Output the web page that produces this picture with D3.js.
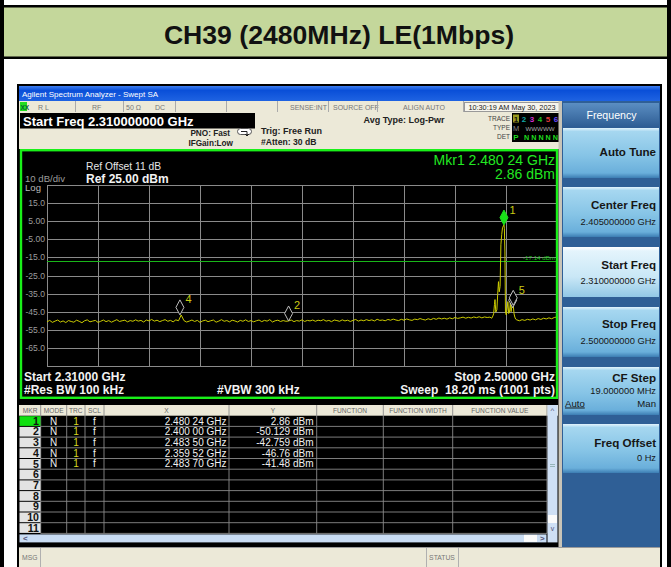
<!DOCTYPE html>
<html>
<head>
<meta charset="utf-8">
<script src="https://cdn.jsdelivr.net/npm/d3@7"></script>
<style>
  body { margin: 0; background: #fff; }
  svg { display: block; font-family: "Liberation Sans", Arial, sans-serif; }
</style>
</head>
<body>
<svg id="chart" width="671" height="567"></svg>
<script>
var titleText = "CH39 (2480MHz) LE(1Mbps)";

var startGHz = 2.31, stopGHz = 2.50;
var refDbm = 25, bottomDbm = -75;
var displayLineDbm = -17.14;

var yTickValues = [15, 5, -5, -15, -25, -35, -45, -55, -65];
var yTickLabels = ["15.0", "5.00", "-5.00", "-15.0", "-25.0", "-35.0", "-45.0", "-55.0", "-65.0"];
var xGridGHz = [2.310, 2.329, 2.348, 2.367, 2.386, 2.405, 2.424, 2.443, 2.462, 2.481, 2.500];

// trace: floor 2.310..2.475 GHz every 1 MHz
var floorLeftDbm = [
  -50.6, -49.8, -50.9, -50.2, -49.6, -50.7, -50.1, -51.0, -49.9, -50.4,
  -50.8, -49.7, -50.3, -51.1, -50.0, -49.5, -50.6, -50.2, -49.8, -50.9,
  -50.3, -49.6, -50.5, -49.9, -50.8, -50.1, -49.4, -50.4, -50.0, -49.7,
  -50.6, -49.9, -50.3, -49.5, -50.2, -49.8, -50.7, -49.6, -50.1, -49.3,
  -50.2, -49.7, -50.5, -49.9, -49.4, -50.3, -49.8, -50.6, -49.5, -50.0,
  -46.8, -49.9, -50.7, -50.2, -49.6, -50.4, -49.8, -50.9, -50.1, -49.7,
  -50.5, -50.0, -49.6, -50.8, -50.2, -49.4, -50.3, -49.9, -50.6, -49.7,
  -50.1, -50.7, -49.8, -50.3, -49.5, -50.4, -49.9, -50.6, -50.0, -49.6,
  -50.5, -49.8, -50.2, -49.4, -50.7, -50.0, -49.7, -50.4, -49.9, -50.3,
  -50.13, -49.6, -50.5, -49.9, -50.2, -49.5, -50.4, -49.8, -50.1, -49.6,
  -50.3, -49.7, -50.0, -49.4, -50.2, -49.8, -50.5, -49.6, -49.9, -50.3,
  -49.5, -50.1, -49.7, -50.4, -49.8, -49.3, -50.2, -49.6, -50.0, -49.4,
  -49.9, -49.5, -50.1, -49.2, -49.8, -49.6, -50.0, -49.3, -49.7, -49.1,
  -49.6, -49.9, -49.2, -49.7, -49.0, -49.5, -49.8, -49.1, -49.4, -48.8,
  -49.3, -49.6, -48.9, -49.4, -48.7, -49.2, -48.5, -49.0, -48.6, -49.1,
  -48.4, -48.9, -48.2, -48.7, -48.4, -48.0, -48.6, -48.1, -48.5, -47.9,
  -48.3, -47.8, -48.4, -47.9, -48.2, -48.0
];
var floorLeftStartGHz = 2.310;
// the carrier itself
var peakFreqGHz = [2.4757, 2.4761, 2.4764, 2.4767, 2.4769, 2.4772, 2.4776, 2.4779, 2.4782, 2.4785,
  2.4788, 2.4791, 2.4794, 2.4797, 2.4800, 2.48024, 2.4804, 2.4806, 2.4808, 2.4811,
  2.4814, 2.4817, 2.4820, 2.4823, 2.4826, 2.4829, 2.4832, 2.4835, 2.4837, 2.4840,
  2.4843, 2.4846];
var peakDbm = [-48.6, -47.4, -46.2, -41.0, -38.3, -45.2, -44.0, -35.5, -28.4, -34.0,
  -31.0, -8.0, -2.4, 1.4, 2.3, 2.86, 0.8, -12.0, -45.2, -46.8,
  -43.5, -39.4, -46.0, -45.2, -40.2, -45.0, -41.9, -42.76, -41.48, -46.2,
  -48.0, -49.1];
// floor 2.485..2.500 GHz every 1 MHz
var floorRightDbm = [-49.5, -50.0, -49.4, -49.8, -49.2, -49.6, -49.0, -49.5, -48.8, -49.3,
  -48.6, -49.0, -48.4, -48.9, -48.2, -47.9];
var floorRightStartGHz = 2.485;

var markerIds = [1, 2, 3, 4, 5];
var markerFreqGHz = [2.48024, 2.40000, 2.48350, 2.35952, 2.48370];
var markerDbm = [2.86, -50.129, -42.759, -46.76, -41.48];
var markerXText = ["2.480 24 GHz", "2.400 00 GHz", "2.483 50 GHz", "2.359 52 GHz", "2.483 70 GHz"];
var markerYText = ["2.86 dBm", "-50.129 dBm", "-42.759 dBm", "-46.76 dBm", "-41.48 dBm"];

var softkeyLabels = ["Auto Tune", "Center Freq", "Start Freq", "Stop Freq", "CF Step", "Freq Offset"];
var softkeyValues = ["", "2.405000000 GHz", "2.310000000 GHz", "2.500000000 GHz", "19.000000 MHz", "0 Hz"];

var svg = d3.select("#chart");
var defs = svg.append("defs");

function grad(id, stops) {
  var g = defs.append("linearGradient").attr("id", id).attr("x1", 0).attr("y1", 0).attr("x2", 0).attr("y2", 1);
  stops.forEach(function (s) {
    g.append("stop").attr("offset", s[0]).attr("stop-color", s[1]);
  });
}
grad("titleBar", [[0, "#3f7ff0"], [0.3, "#0a4fd8"], [1, "#1f63e2"]]);
grad("key", [[0, "#e2f3fc"], [0.07, "#a6d7f0"], [0.55, "#86c4e6"], [0.9, "#6aafdb"], [1, "#3c7db3"]]);
grad("keySel", [[0, "#ffffff"], [0.08, "#e4f4fc"], [0.6, "#c9e7f6"], [1, "#92c8e6"]]);
grad("keyHead", [[0, "#5b8ec2"], [1, "#2d5c93"]]);

function label(parent, x, y, s, size, fill, anchor, weight) {
  return parent.append("text")
    .attr("x", x).attr("y", y)
    .attr("font-size", size)
    .attr("fill", fill)
    .attr("text-anchor", anchor || "start")
    .attr("font-weight", weight || "normal")
    .text(s);
}

function box(parent, x, y, w, h, fill) {
  return parent.append("rect").attr("x", x).attr("y", y).attr("width", w).attr("height", h).attr("fill", fill);
}

// ---------- page / title band ----------
box(svg, 0, 0, 671, 567, "#fff");
box(svg, 0, 6, 671, 52, "#c4d79b");
box(svg, 0, 5, 671, 2.5, "#000");
box(svg, 0, 56.5, 671, 2.5, "#000");
box(svg, 0, 0, 4, 567, "#000");
box(svg, 667, 0, 4, 567, "#000");
label(svg, 339, 44, titleText, 26.6, "#111", "middle", "bold");

// ---------- analyzer window ----------
box(svg, 17, 84, 645, 483, "#000");
box(svg, 19, 86, 641, 15, "url(#titleBar)");
label(svg, 22, 97, "Agilent Spectrum Analyzer - Swept SA", 8, "#fff");

// status strip
box(svg, 19, 101, 542, 11, "#ece9d8");
box(svg, 20, 102, 7, 9, "#22dd22");
label(svg, 20.5, 109.5, "XX", 6.5, "#063", "start", "bold");
var stripItems = [[38, "R L"], [92, "RF"], [126, "50 \u03a9"], [155, "DC"], [290, "SENSE:INT"], [333, "SOURCE OFF"], [403, "ALIGN AUTO"]];
stripItems.forEach(function (d) { label(svg, d[0], 109.5, d[1], 7, "#777"); });
[75, 123, 175, 226, 277, 328, 377, 463].forEach(function (x) {
  svg.append("line").attr("x1", x + 0.5).attr("x2", x + 0.5).attr("y1", 101).attr("y2", 112).attr("stroke", "#aaa");
});
svg.append("rect").attr("x", 464.5).attr("y", 102.5).attr("width", 95).attr("height", 9).attr("fill", "#f6f4ec").attr("stroke", "#999");
label(svg, 512, 110, "10:30:19 AM May 30, 2023", 7.3, "#222", "middle");

// settings area
box(svg, 19, 112, 542, 37, "#ece9d8");
box(svg, 20, 113, 235, 15.5, "#000");
label(svg, 23, 125.5, "Start Freq 2.310000000 GHz", 13, "#fff", "start", "bold");
label(svg, 230, 135.5, "PNO: Fast", 8.2, "#222", "end", "bold");
label(svg, 233, 145.5, "IFGain:Low", 8.2, "#222", "end", "bold");
svg.append("rect").attr("x", 237.5).attr("y", 128.5).attr("width", 14).attr("height", 6).attr("rx", 3)
  .attr("fill", "#fff").attr("stroke", "#555");
svg.append("path").attr("d", "M241,131.5 h6 v4 m-2,-1.5 l2,2 l2,-2").attr("fill", "none").attr("stroke", "#222");
label(svg, 261, 133.5, "Trig: Free Run", 9, "#222", "start", "bold");
label(svg, 261, 145, "#Atten: 30 dB", 8.6, "#222", "start", "bold");
label(svg, 404, 122.5, "Avg Type: Log-Pwr", 9, "#222", "middle", "bold");
label(svg, 510, 120.5, "TRACE", 6.5, "#444", "end");
label(svg, 510, 129.5, "TYPE", 6.5, "#444", "end");
label(svg, 510, 138.5, "DET", 6.5, "#444", "end");
box(svg, 512, 113, 48, 29, "#000");
box(svg, 513, 114.5, 6, 8, "#9a9a20");
var traceNumColors = ["#111", "#13a7a7", "#d02fd0", "#1fbf1f", "#e23a3a", "#6a4cff"];
traceNumColors.forEach(function (c, i) {
  label(svg, 516 + i * 8, 121.5, String(i + 1), 8, c, "middle", "bold");
});
label(svg, 516, 130.5, "M", 7.5, "#8a8a8a", "middle");
label(svg, 540, 130.5, "WWWWW", 6.2, "#aaa", "middle");
label(svg, 516, 139.5, "P", 8, "#1fdc1f", "middle", "bold");
label(svg, 541, 139.5, "N N N N N", 7.2, "#1fdc1f", "middle", "bold");

// ---------- trace display ----------
var x = d3.scaleLinear().domain([startGHz, stopGHz]).range([47, 557]);
var y = d3.scaleLinear().domain([bottomDbm, refDbm]).range([366, 185]);

box(svg, 20, 149, 539, 250, "#000");
var plot = svg.append("g");
plot.selectAll(".hgrid").data(yTickValues.concat([refDbm, bottomDbm])).enter().append("line")
  .attr("x1", 47).attr("x2", 557)
  .attr("y1", function (d) { return Math.round(y(d)) + 0.5; })
  .attr("y2", function (d) { return Math.round(y(d)) + 0.5; })
  .attr("stroke", "#8a8a8a");
plot.selectAll(".vgrid").data(xGridGHz).enter().append("line")
  .attr("x1", function (d) { return Math.round(x(d)) + 0.5; })
  .attr("x2", function (d) { return Math.round(x(d)) + 0.5; })
  .attr("y1", 185).attr("y2", 366.5)
  .attr("stroke", "#8a8a8a");
plot.selectAll(".ytl").data(yTickValues).enter().append("text")
  .attr("x", 45).attr("y", function (d) { return y(d) + 3; })
  .attr("text-anchor", "end").attr("font-size", 8.6).attr("fill", "#9c9c9c")
  .text(function (d, i) { return yTickLabels[i]; });

label(svg, 25, 181.5, "10 dB/div", 9.6, "#9c9c9c");
label(svg, 25, 191, "Log", 9.6, "#b8b8b8");
label(svg, 86, 170, "Ref Offset 11 dB", 10.3, "#e6e6e6");
label(svg, 86, 182.5, "Ref 25.00 dBm", 12, "#f2f2f2", "start", "bold");
label(svg, 555, 164.5, "Mkr1 2.480 24 GHz", 14, "#22e822", "end");
label(svg, 555, 179, "2.86 dBm", 14, "#22e822", "end");

// display line
plot.append("line").attr("x1", 47).attr("x2", 557)
  .attr("y1", Math.round(y(displayLineDbm)) + 0.5).attr("y2", Math.round(y(displayLineDbm)) + 0.5)
  .attr("stroke", "#19b519");
label(svg, 555, y(displayLineDbm) - 1.5, "-17.14 dBm", 6.2, "#19c219", "end");

var tracePts = [];
floorLeftDbm.forEach(function (v, i) { tracePts.push([floorLeftStartGHz + i * 0.001, v]); });
peakFreqGHz.forEach(function (f, i) { tracePts.push([f, peakDbm[i]]); });
floorRightDbm.forEach(function (v, i) { tracePts.push([floorRightStartGHz + i * 0.001, v]); });

defs.append("clipPath").attr("id", "grat").append("rect")
  .attr("x", 47).attr("y", 185).attr("width", 510).attr("height", 181);
var line = d3.line()
  .x(function (d) { return x(d[0]); })
  .y(function (d) { return y(d[1]); });
plot.append("path").datum(tracePts)
  .attr("clip-path", "url(#grat)")
  .attr("d", line)
  .attr("fill", "none")
  .attr("stroke", "#cccc00")
  .attr("stroke-width", 1);

// markers: 3 sits under 5 on screen, active one drawn last
var order = [2, 1, 3, 4, 0];
order.forEach(function (i) {
  var mx = x(markerFreqGHz[i]), my = y(markerDbm[i]);
  var active = i === 0;
  plot.append("path")
    .attr("d", "M" + mx + "," + my + " L" + (mx + 4) + "," + (my - 7.5) + " L" + mx + "," + (my - 15) + " L" + (mx - 4) + "," + (my - 7.5) + "Z")
    .attr("fill", active ? "#19e019" : "#000")
    .attr("stroke", active ? "#19e019" : "#bdbdbd")
    .attr("stroke-width", 1);
  if (i !== 2) label(plot, mx + 5.5, my - 11.5, String(markerIds[i]), 11, "#c9c913");
});

// green frame on top
svg.append("rect").attr("x", 21).attr("y", 150.2).attr("width", 536).attr("height", 247.6)
  .attr("fill", "none").attr("stroke", "#19f019").attr("stroke-width", 2.4);

label(svg, 24, 380.5, "Start 2.31000 GHz", 12, "#f2f2f2", "start", "bold");
label(svg, 24, 393.5, "#Res BW 100 kHz", 12, "#f2f2f2", "start", "bold");
label(svg, 217, 393.5, "#VBW 300 kHz", 12, "#f2f2f2", "start", "bold");
label(svg, 555, 380.5, "Stop 2.50000 GHz", 12, "#f2f2f2", "end", "bold");
label(svg, 555, 393.5, "Sweep  18.20 ms (1001 pts)", 12, "#f2f2f2", "end", "bold").attr("xml:space", "preserve");

box(svg, 558.5, 101, 3.5, 446, "#c8c4b8");

// ---------- marker table ----------
var colEdges = [19.5, 40.7, 66.7, 85, 104, 229, 316.7, 383.3, 452.7, 547];
var headTexts = ["MKR", "MODE", "TRC", "SCL", "X", "Y", "FUNCTION", "FUNCTION WIDTH", "FUNCTION VALUE"];
var headTop = 405, headBot = 415.7, rowH = 10.7, rowCount = 11;
box(svg, 19, headTop, 539, headBot - headTop, "#ece9d8");
headTexts.forEach(function (t, i) {
  var cx = (colEdges[i] + colEdges[i + 1]) / 2;
  label(svg, cx, headTop + 7.7, t, 6.6, "#666", "middle");
});
colEdges.slice(1).forEach(function (e) {
  svg.append("line").attr("x1", e).attr("x2", e).attr("y1", headTop).attr("y2", headBot + rowH * rowCount)
    .attr("stroke", "#8a8a8a").attr("stroke-width", 0.9);
});
d3.range(rowCount).forEach(function (r) {
  var top = headBot + r * rowH;
  box(svg, 19.5, top + 0.5, 21, rowH - 1, r === 0 ? "#10e010" : "#e3e3e3");
  label(svg, 39, top + 9, String(r + 1), 10.6, "#111", "end", "bold");
  svg.append("line").attr("x1", 40.7).attr("x2", 547).attr("y1", top + rowH).attr("y2", top + rowH)
    .attr("stroke", "#8a8a8a").attr("stroke-width", 0.9);
});
markerIds.forEach(function (id, r) {
  var base = headBot + r * rowH + 8.8;
  label(svg, 53.5, base, "N", 10, "#eee", "middle");
  label(svg, 76, base, "1", 10, "#d8d820", "middle");
  label(svg, 94.5, base, "f", 10, "#eee", "middle");
  label(svg, 226.5, base, markerXText[r], 10, "#f0f0f0", "end");
  label(svg, 313.5, base, markerYText[r], 10, "#f0f0f0", "end");
});

// scrollbars
var tableBot = headBot + rowH * rowCount;
box(svg, 19.5, tableBot + 1, 527, 8, "#c9dcf3");
label(svg, 23, tableBot + 8, "<", 8, "#557", "start", "bold");
box(svg, 524, tableBot + 1.5, 13, 7, "#fbfbfb");
label(svg, 540, tableBot + 8, ">", 8, "#557", "start", "bold");
box(svg, 547.5, headTop, 10, tableBot - headTop + 9, "#cfe0f5");
box(svg, 548, 515, 9, 8, "#fbfbfb");
label(svg, 552.5, 413, "^", 8, "#557", "middle");
label(svg, 552.5, 531, "v", 7, "#557", "middle");
svg.append("path").attr("d", "M550,464.5 h5 M550,466.5 h5").attr("stroke", "#8aa").attr("stroke-width", 0.8);

// message bar
box(svg, 19, 547, 641, 20, "#ece9d8");
svg.append("line").attr("x1", 19).attr("x2", 660).attr("y1", 547.5).attr("y2", 547.5).attr("stroke", "#9a9a9a");
[40, 426, 458].forEach(function (sx) {
  svg.append("line").attr("x1", sx + 0.5).attr("x2", sx + 0.5).attr("y1", 548).attr("y2", 567).attr("stroke", "#b0b0b0");
});
label(svg, 22, 560, "MSG", 6.8, "#777");
label(svg, 442, 560, "STATUS", 6.8, "#777", "middle");

// ---------- softkey panel ----------
var panel = svg.append("g");
box(panel, 562, 101, 98, 446, "#2f5f96");
box(panel, 563, 103, 96, 24.5, "url(#keyHead)");
label(panel, 611.5, 118.5, "Frequency", 10.6, "#fff", "middle");
var keyTops = [128, 187, 247, 307, 367, 424];
var keyHeights = [50, 50, 50, 50, 48, 49];
var labelDy = [28, 22, 22, 21, 15, 23];
var valueDy = [0, 38, 37, 36.5, 26.5, 37];
softkeyLabels.forEach(function (k, i) {
  box(panel, 563, keyTops[i], 96, keyHeights[i], i === 2 ? "url(#keySel)" : "url(#key)");
  label(panel, 656, keyTops[i] + labelDy[i], k, 11.6, "#161616", "end", "bold");
  if (softkeyValues[i]) label(panel, 656, keyTops[i] + valueDy[i], softkeyValues[i], 9.3, "#161616", "end");
});
label(panel, 565, 406.5, "Auto", 9.6, "#161616", "start").attr("text-decoration", "underline");
label(panel, 656, 406.5, "Man", 9.6, "#161616", "end");
</script>
</body>
</html>
